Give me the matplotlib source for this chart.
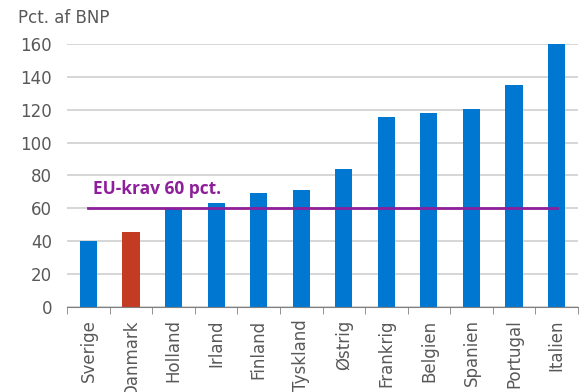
import matplotlib
matplotlib.use("Agg")
import matplotlib.pyplot as plt

lande = ["Sverige", "Danmark", "Holland", "Irland", "Finland", "Tyskland",
         "Østrig", "Frankrig", "Belgien", "Spanien", "Portugal", "Italien"]
gaeld = [40, 45.5, 60, 63.3, 69.6, 71, 84, 115.7, 117.8, 120.2, 135, 160]
eu_krav = 60

plt.rcParams['font.family'] = ['DejaVu Sans']
tekst = "#595959"

fig = plt.figure(figsize=(5.79, 3.92), dpi=100)
ax = fig.add_axes([0.116, 0.217, 0.882, 0.671])

farver = ["#C23B22" if l == "Danmark" else "#0078D2" for l in lande]
x = range(len(lande))
ax.bar(x, gaeld, width=0.4, color=farver, zorder=3)

# EU-grænsen fra første til sidste søjle
ax.plot([0, len(lande) - 1], [eu_krav, eu_krav], color="#8E1F9B", lw=2, zorder=4)
ax.text(0.1, eu_krav + 6, "EU-krav 60 pct.", color="#8E1F9B", fontsize=12.5,
        fontweight="bold", va="bottom", ha="left", family=['Open Sans'])

ax.set_ylim(0, 160)
ax.set_yticks(range(0, 161, 20))
ax.set_xlim(-0.5, len(lande) - 0.5)
ax.set_xticks(list(x))
ax.set_xticklabels(lande, rotation=90, fontsize=12, color=tekst)
ax.tick_params(axis='x', length=0, pad=9)
ax.set_xticks([i + 0.5 for i in range(-1, len(lande))], minor=True)
ax.tick_params(axis='x', which='minor', length=5, color="#808080", direction='out')
ax.tick_params(axis='y', length=0, labelsize=12, labelcolor=tekst, pad=11)

ax.grid(axis='y', color="#D0D0D0", lw=1.2, zorder=0)
for s in ["top", "right", "left"]:
    ax.spines[s].set_visible(False)
ax.spines["bottom"].set_color("#808080")
ax.spines["bottom"].set_zorder(5)

fig.text(0.031, 0.978, "Pct. af BNP", fontsize=12, color=tekst, va="top")

fig.savefig("out.png", dpi=100)
